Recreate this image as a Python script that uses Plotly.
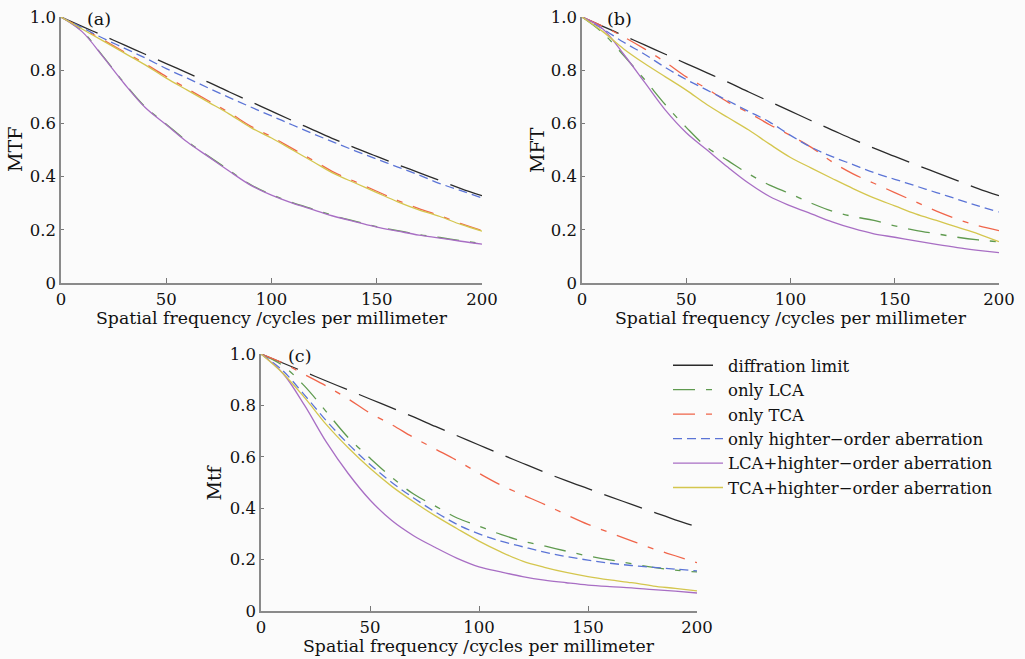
import plotly.graph_objects as go

# ---------------- data ----------------
FREQ = [0, 10, 20, 30, 40, 50, 60, 70, 80, 90, 100,
        110, 120, 130, 140, 150, 160, 170, 180, 190, 200]

SERIES_NAMES = ["diffration limit", "only LCA", "only TCA",
                "only highter\u2212order aberration",
                "LCA+highter\u2212order aberration",
                "TCA+highter\u2212order aberration"]

DIFF_LIMIT = [1.0, 0.965, 0.93, 0.895, 0.86, 0.825, 0.79, 0.755, 0.718, 0.682, 0.646,
              0.61, 0.575, 0.54, 0.507, 0.476, 0.445, 0.415, 0.385, 0.355, 0.328]

# panel (a)
A_LCA = [1.0, 0.947, 0.852, 0.752, 0.662, 0.597, 0.532, 0.477, 0.423, 0.37, 0.332,
         0.302, 0.277, 0.252, 0.232, 0.212, 0.197, 0.182, 0.171, 0.159, 0.148]
A_TCA = [1.0, 0.958, 0.914, 0.869, 0.824, 0.776, 0.73, 0.685, 0.64, 0.59, 0.55,
         0.505, 0.46, 0.415, 0.38, 0.345, 0.31, 0.28, 0.253, 0.223, 0.197]
A_HOA = [1.0, 0.96, 0.92, 0.883, 0.846, 0.806, 0.77, 0.733, 0.697, 0.662, 0.628,
         0.594, 0.56, 0.528, 0.496, 0.466, 0.436, 0.406, 0.374, 0.347, 0.32]
A_LCA_HOA = [1.0, 0.945, 0.85, 0.75, 0.66, 0.595, 0.53, 0.475, 0.42, 0.368, 0.33,
             0.3, 0.275, 0.25, 0.23, 0.21, 0.195, 0.18, 0.169, 0.157, 0.146]
A_TCA_HOA = [1.0, 0.955, 0.91, 0.865, 0.82, 0.77, 0.725, 0.68, 0.635, 0.585, 0.545,
             0.5, 0.455, 0.41, 0.375, 0.34, 0.305, 0.275, 0.25, 0.22, 0.195]

# panel (b)
B_LCA = [1.0, 0.94, 0.855, 0.765, 0.67, 0.585, 0.51, 0.46, 0.41, 0.368, 0.335,
         0.3, 0.27, 0.25, 0.235, 0.215, 0.198, 0.185, 0.172, 0.162, 0.155]
B_TCA = [1.0, 0.965, 0.925, 0.88, 0.83, 0.775, 0.73, 0.68, 0.64, 0.595, 0.555,
         0.51, 0.455, 0.41, 0.375, 0.34, 0.305, 0.27, 0.24, 0.215, 0.197]
B_HOA = [1.0, 0.955, 0.905, 0.86, 0.81, 0.765, 0.725, 0.685, 0.645, 0.605, 0.555,
         0.51, 0.475, 0.445, 0.415, 0.39, 0.365, 0.34, 0.315, 0.29, 0.267]
B_LCA_HOA = [1.0, 0.955, 0.86, 0.755, 0.65, 0.565, 0.5, 0.435, 0.375, 0.325, 0.29,
             0.26, 0.23, 0.205, 0.185, 0.172, 0.158, 0.145, 0.133, 0.123, 0.114]
B_TCA_HOA = [1.0, 0.945, 0.88, 0.825, 0.775, 0.725, 0.67, 0.622, 0.575, 0.522, 0.472,
             0.432, 0.393, 0.355, 0.32, 0.29, 0.26, 0.235, 0.21, 0.185, 0.155]

# panel (c)
C_LCA = [1.0, 0.955, 0.875, 0.775, 0.675, 0.595, 0.52, 0.455, 0.408, 0.362, 0.33,
         0.298, 0.272, 0.253, 0.233, 0.214, 0.199, 0.184, 0.17, 0.159, 0.152]
C_TCA = [1.0, 0.965, 0.92, 0.875, 0.825, 0.77, 0.725, 0.675, 0.63, 0.585, 0.536,
         0.49, 0.452, 0.415, 0.375, 0.337, 0.305, 0.273, 0.242, 0.215, 0.188]
C_HOA = [1.0, 0.935, 0.84, 0.74, 0.65, 0.57, 0.5, 0.44, 0.385, 0.337, 0.3,
         0.272, 0.25, 0.229, 0.212, 0.198, 0.186, 0.177, 0.17, 0.163, 0.156]
C_LCA_HOA = [1.0, 0.925, 0.8, 0.657, 0.535, 0.432, 0.352, 0.293, 0.247, 0.205, 0.172,
             0.152, 0.134, 0.12, 0.11, 0.101, 0.095, 0.09, 0.083, 0.077, 0.07]
C_TCA_HOA = [1.0, 0.925, 0.83, 0.725, 0.635, 0.555, 0.485, 0.425, 0.37, 0.32, 0.272,
             0.23, 0.194, 0.17, 0.15, 0.134, 0.121, 0.11, 0.097, 0.088, 0.078]

X_TICKS = [0, 50, 100, 150, 200]
Y_TICKS = [0, 0.2, 0.4, 0.6, 0.8, 1.0]
Y_TICK_TEXT = ["0", "0.2", "0.4", "0.6", "0.8", "1.0"]
PANEL_LABELS = ["(a)", "(b)", "(c)"]
Y_TITLES = ["MTF", "MFT", "Mtf"]
X_TITLE = "Spatial frequency /cycles per millimeter"

# ---------------- styles ----------------
COLORS = ["#2b2b2b", "#5f9a4f", "#f0654a", "#5b74d6", "#a86ec4", "#d4c64e"]
DASHES = ["40px,13px", "22px,11px,6px,11px", "22px,11px,6px,11px",
          "9px,5px", "solid", "solid"]
FONT = "DejaVu Serif"
W, H = 1025, 659
BG = "#fbfbfb"

panels = [
    [DIFF_LIMIT, A_LCA, A_TCA, A_HOA, A_LCA_HOA, A_TCA_HOA],
    [DIFF_LIMIT, B_LCA, B_TCA, B_HOA, B_LCA_HOA, B_TCA_HOA],
    [DIFF_LIMIT, C_LCA, C_TCA, C_HOA, C_LCA_HOA, C_TCA_HOA],
]

# pixel boxes (left, right, top, bottom) for each panel's plotting area
BOXES = [(61, 482, 17, 283), (582, 999, 17, 283), (261, 697, 354, 611)]
YTITLE_X = [15, 537, 213]
LABEL_X = [99, 619, 299]

fig = go.Figure()
axis_ids = [("x", "y"), ("x2", "y2"), ("x3", "y3")]

for p, series in enumerate(panels):
    xa, ya = axis_ids[p]
    for s, vals in enumerate(series):
        fig.add_trace(go.Scatter(
            x=FREQ, y=vals, mode="lines", name=SERIES_NAMES[s],
            xaxis=xa, yaxis=ya, line_shape="spline",
            line=dict(color=COLORS[s], width=1.3, dash=DASHES[s]),
            showlegend=(p == 0), legendrank=s + 1,
        ))

layout = dict(
    width=W, height=H, margin=dict(l=0, r=0, t=0, b=0, autoexpand=False),
    paper_bgcolor=BG, plot_bgcolor=BG,
    font=dict(family=FONT, size=16, color="#111"),
    legend=dict(x=668 / W, y=1 - 348 / H, xanchor="left", yanchor="top",
                bgcolor="rgba(0,0,0,0)", font=dict(family=FONT, size=16.5, color="#111"),
                itemwidth=50, tracegroupgap=0, traceorder="normal"),
    annotations=[],
)

for p, (l, r, t, b) in enumerate(BOXES):
    suffix = "" if p == 0 else str(p + 1)
    layout["xaxis" + suffix] = dict(
        domain=[l / W, r / W], range=[0, 200], anchor="y" + suffix,
        tickvals=X_TICKS, ticks="inside", ticklen=5, tickcolor="#777",
        showline=True, linecolor="#8a8a8a", linewidth=1.5, showgrid=False,
        zeroline=False, automargin=False,
        tickfont=dict(family=FONT, size=16.5, color="#111"),
    )
    layout["yaxis" + suffix] = dict(
        domain=[1 - b / H, 1 - t / H], range=[0, 1], anchor="x" + suffix,
        tickvals=Y_TICKS, ticktext=Y_TICK_TEXT, ticks="inside", ticklen=3,
        tickcolor="#777", showline=True, linecolor="#8a8a8a", linewidth=1.5,
        showgrid=False, zeroline=False, automargin=False,
        tickfont=dict(family=FONT, size=16.5, color="#111"),
    )
    # x-axis title
    layout["annotations"].append(dict(
        text=X_TITLE, xref="paper", yref="paper",
        x=(l + r) / 2 / W, y=1 - (b + 35) / H, xanchor="center", yanchor="middle",
        showarrow=False, font=dict(family=FONT, size=17.3, color="#111")))
    # y-axis title
    layout["annotations"].append(dict(
        text=Y_TITLES[p], xref="paper", yref="paper", textangle=-90,
        x=YTITLE_X[p] / W, y=1 - (t + b) / 2 / H, xanchor="center", yanchor="middle",
        showarrow=False, font=dict(family=FONT, size=19, color="#111")))
    # panel label
    layout["annotations"].append(dict(
        text=PANEL_LABELS[p], xref="paper", yref="paper",
        x=LABEL_X[p] / W, y=1 - (t + 2) / H, xanchor="center", yanchor="middle",
        showarrow=False, font=dict(family=FONT, size=17.5, color="#111")))

fig.update_layout(**layout)
fig.write_html(
    "out.html",
    config={"displayModeBar": False},
    post_script="document.body.style.margin='0';document.body.style.overflow='hidden';",
)
